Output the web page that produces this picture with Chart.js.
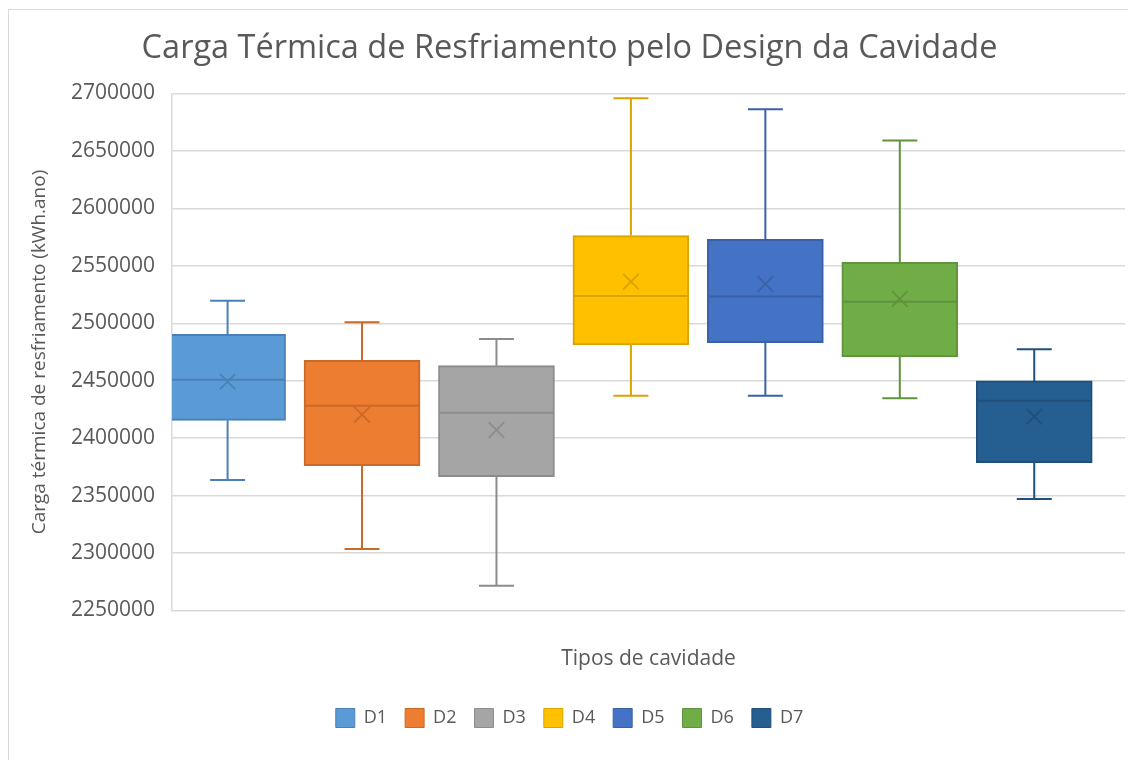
<!DOCTYPE html>
<html lang="pt">
<head>
<meta charset="utf-8">
<title>Carga Térmica de Resfriamento</title>
<script src="https://cdn.jsdelivr.net/npm/chart.js@4.4.1/dist/chart.umd.min.js"></script>
<style>
  html, body { margin: 0; padding: 0; background: #fff; }
  #wrap { position: relative; width: 1128px; height: 760px; overflow: hidden; }
  #frame {
    position: absolute; left: 8px; top: 9px; width: 1200px; height: 800px;
    border-left: 1px solid #d9d9d9; border-top: 1px solid #d9d9d9;
    pointer-events: none;
  }
  canvas { position: absolute; left: 0; top: 0; }
</style>
</head>
<body>
<div id="wrap">
  <div id="frame"></div>
  <canvas id="boxChart" width="1128" height="760"></canvas>
</div>
<script>
// five-number summary + mean per cavity type (kWh.ano)
const series = ["D1", "D2", "D3", "D4", "D5", "D6", "D7"];
const whiskerMin = [2363600, 2303500, 2271500, 2437000, 2437000, 2434700, 2347000];
const quartile1 = [2415500, 2376000, 2366400, 2481100, 2483100, 2470700, 2378600];
const medians = [2450900, 2428300, 2422200, 2523800, 2523200, 2518800, 2432600];
const quartile3 = [2490400, 2467800, 2463100, 2576300, 2573100, 2553100, 2449800];
const whiskerMax = [2519700, 2500900, 2486300, 2695900, 2686300, 2659000, 2477400];
const means = [2449200, 2420400, 2407100, 2536200, 2534200, 2521200, 2418700];

const yTicks = { min: 2250000, max: 2700000, step: 50000 };

const fillColors = ["#5B9BD5", "#ED7D31", "#A5A5A5", "#FFC000", "#4472C4", "#70AD47", "#255E91"];
const lineColors = ["#4A80B8", "#C96A2A", "#8C8C8C", "#D9A300", "#3A61A7", "#5F933C", "#1F507B"];

const BOX_PX = 116;     // box width in pixels
const BOX_HALF = 0.425; // half box width, in category units (median line)
const CAP_HALF = 0.13;  // half whisker cap width
const TEXT = "#595959";
const FONT = "'Open Sans', 'Noto Sans', sans-serif";

const boxSets = series.map((name, i) => ({
  type: "bar",
  label: name,
  data: [{ x: i + 1, y: [quartile1[i], quartile3[i]] }],
  backgroundColor: fillColors[i],
  borderColor: lineColors[i],
  borderWidth: 2,
  borderSkipped: false,
  grouped: false,
  barThickness: BOX_PX,
  order: 3,
}));

// whiskers with caps plus the median line, one polyline per series
const whiskerSets = series.map((name, i) => {
  const x = i + 1;
  return {
    type: "line",
    label: name + " whiskers",
    data: [
      { x: x - CAP_HALF, y: whiskerMin[i] },
      { x: x + CAP_HALF, y: whiskerMin[i] },
      { x: x, y: whiskerMin[i] },
      { x: x, y: quartile1[i] },
      { x: x, y: null },
      { x: x - BOX_HALF, y: medians[i] },
      { x: x + BOX_HALF, y: medians[i] },
      { x: x, y: null },
      { x: x, y: quartile3[i] },
      { x: x, y: whiskerMax[i] },
      { x: x - CAP_HALF, y: whiskerMax[i] },
      { x: x + CAP_HALF, y: whiskerMax[i] },
    ],
    borderColor: lineColors[i],
    borderWidth: 2,
    pointRadius: 0,
    tension: 0,
    spanGaps: false,
    fill: false,
    order: 2,
  };
});

const meanSets = series.map((name, i) => ({
  type: "line",
  label: name + " mean",
  data: [{ x: i + 1, y: means[i] }],
  showLine: false,
  pointStyle: "crossRot",
  pointRadius: 11,
  borderColor: lineColors[i],
  backgroundColor: lineColors[i],
  pointBorderWidth: 1.8,
  order: 1,
}));

new Chart(document.getElementById("boxChart"), {
  data: { datasets: [...boxSets, ...whiskerSets, ...meanSets] },
  options: {
    responsive: false,
    animation: false,
    layout: {
      autoPadding: false,
      padding: { left: 14, right: 3, top: 0, bottom: 22.5 },
    },
    plugins: {
      title: {
        display: true,
        text: "Carga Térmica de Resfriamento pelo Design da Cavidade",
        color: TEXT,
        font: { family: FONT, size: 32.5, weight: "normal" },
        padding: { top: 29, bottom: 25.5 },
      },
      legend: {
        position: "bottom",
        labels: {
          color: TEXT,
          font: { family: FONT, size: 18 },
          boxWidth: 19,
          boxHeight: 19,
          padding: 18,
          filter: (item) => item.datasetIndex < series.length,
          generateLabels: (chart) =>
            Chart.defaults.plugins.legend.labels
              .generateLabels(chart)
              .map((item) => ({ ...item, lineWidth: 1 })),
        },
      },
      tooltip: { enabled: false },
    },
    scales: {
      x: {
        type: "linear",
        min: 0.5866,
        max: 7.675,
        offset: false,
        grid: { display: false, offset: false },
        border: { display: false },
        ticks: { display: false },
        title: {
          display: true,
          text: "Tipos de cavidade",
          color: TEXT,
          font: { family: FONT, size: 21 },
          padding: { top: 0, bottom: 19 },
        },
        afterFit: (scale) => { scale.height = 80; },
      },
      y: {
        min: yTicks.min,
        max: yTicks.max,
        grid: { color: "#d9d9d9", lineWidth: 1.5, drawTicks: false },
        border: { display: true, color: "#d9d9d9", width: 1.5 },
        ticks: {
          stepSize: yTicks.step,
          padding: 17,
          color: TEXT,
          font: { family: FONT, size: 21 },
          callback: (v) => String(v),
        },
        title: {
          display: true,
          text: "Carga térmica de resfriamento (kWh.ano)",
          color: TEXT,
          font: { family: FONT, size: 19 },
          padding: { top: 14.6, bottom: 0 },
        },
        afterFit: (scale) => { scale.width = 158; },
      },
    },
  },
});
</script>
</body>
</html>
